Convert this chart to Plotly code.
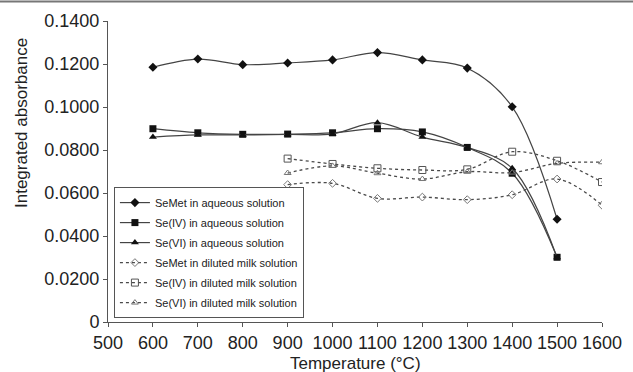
import plotly.graph_objects as go

temps_aq = [600, 700, 800, 900, 1000, 1100, 1200, 1300, 1400, 1500]
semet_aq = [0.1185, 0.1223, 0.1197, 0.1205, 0.1219, 0.1253, 0.1219, 0.1181, 0.1001, 0.0478]
se4_aq = [0.0899, 0.0880, 0.0873, 0.0874, 0.0880, 0.0899, 0.0884, 0.0812, 0.0692, 0.0301]
se6_aq = [0.0860, 0.0870, 0.0870, 0.0872, 0.0875, 0.0927, 0.0860, 0.0812, 0.0715, 0.0300]

temps_milk = [900, 1000, 1100, 1200, 1300, 1400, 1500, 1600]
semet_milk = [0.0639, 0.0645, 0.0575, 0.0581, 0.0569, 0.0592, 0.0665, 0.0543]
se4_milk = [0.0760, 0.0735, 0.0715, 0.0707, 0.0710, 0.0792, 0.0750, 0.0651]
se6_milk = [0.0693, 0.0726, 0.0692, 0.0665, 0.0699, 0.0695, 0.0738, 0.0743]

x_ticks = [500, 600, 700, 800, 900, 1000, 1100, 1200, 1300, 1400, 1500, 1600]
y_ticks = [0, 0.02, 0.04, 0.06, 0.08, 0.10, 0.12, 0.14]
y_ticktext = ["0", "0.0200", "0.0400", "0.0600", "0.0800", "0.1000", "0.1200", "0.1400"]

names = ["SeMet in aqueous solution", "Se(IV) in aqueous solution", "Se(VI) in aqueous solution",
         "SeMet in diluted milk solution", "Se(IV) in diluted milk solution", "Se(VI) in diluted milk solution"]

fig = go.Figure()
aq_line = dict(color="#444444", width=1.2, shape="spline")
milk_line = dict(color="#4a4a4a", width=1.3, shape="spline", dash="dot")

series = [
    (temps_aq, semet_aq, aq_line, dict(symbol="diamond", size=7, color="#111111")),
    (temps_aq, se4_aq, aq_line, dict(symbol="square", size=7, color="#111111")),
    (temps_aq, se6_aq, aq_line, dict(symbol="triangle-up", size=7, color="#111111")),
    (temps_milk, semet_milk, milk_line, dict(symbol="diamond-open", size=6, color="#777777")),
    (temps_milk, se4_milk, milk_line, dict(symbol="square-open", size=7, color="#555555")),
    (temps_milk, se6_milk, milk_line, dict(symbol="triangle-up-open", size=6, color="#777777")),
]
for i, (xs, ys, ln, mk) in enumerate(series):
    fig.add_trace(go.Scatter(x=xs, y=ys, name=names[i], mode="lines+markers", line=ln, marker=mk,
                             legendgroup="g%d" % i))

axis_common = dict(showgrid=False, zeroline=False, showline=True, linecolor="#555555", linewidth=1,
                   ticks="outside", ticklen=4, tickcolor="#555555", automargin=False,
                   tickfont=dict(family="Liberation Sans, Arial, sans-serif", size=18, color="#222222"))

fig.update_layout(
    width=633, height=372,
    margin=dict(l=108, r=31, t=21, b=50, autoexpand=False),
    paper_bgcolor="white", plot_bgcolor="white",
    xaxis=dict(range=[500, 1600], tickvals=x_ticks, ticktext=[str(v) for v in x_ticks], **axis_common),
    yaxis=dict(range=[0, 0.14], tickvals=y_ticks, ticktext=y_ticktext, **axis_common),
    legend=dict(x=0.012, y=0.013, xanchor="left", yanchor="bottom", bordercolor="#555555", borderwidth=1,
                bgcolor="white", font=dict(family="Liberation Sans, Arial", size=11, color="#222222"),
                tracegroupgap=1, itemwidth=30),
    showlegend=True,
    annotations=[
        dict(text="Temperature (°C)", xref="paper", yref="paper", x=0.5, y=-41/301, xanchor="center",
             yanchor="middle", showarrow=False,
             font=dict(family="Liberation Sans, Arial, sans-serif", size=17, color="#222222")),
        dict(text="Integrated absorbance", xref="paper", yref="paper", x=-87/494, y=(322-123)/301,
             xanchor="center", yanchor="middle", textangle=-90, showarrow=False,
             font=dict(family="Liberation Sans, Arial, sans-serif", size=17, color="#222222")),
    ],
    shapes=[dict(type="line", xref="paper", yref="paper", x0=-108/494, x1=(633-108)/494,
                 y0=(322-1.5)/301, y1=(322-1.5)/301, line=dict(color="#777777", width=2))],
)

fig.write_html("out.html", config={"displayModeBar": False},
               post_script="document.body.style.margin='0';document.body.style.overflow='hidden';")
